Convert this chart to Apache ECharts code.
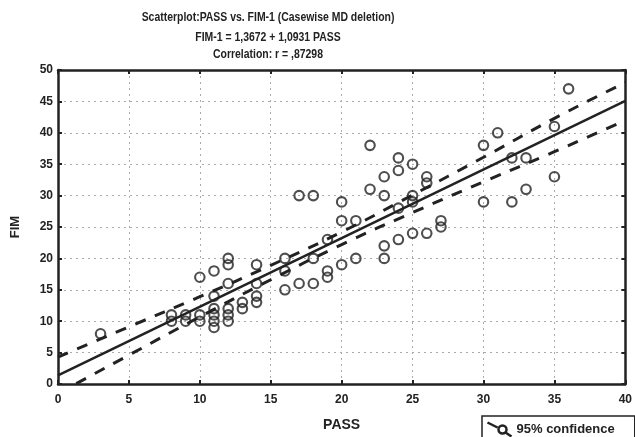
<!DOCTYPE html>
<html><head><meta charset="utf-8">
<script src="https://cdn.jsdelivr.net/npm/echarts@6.0.0/dist/echarts.min.js"></script>
<style>html,body{margin:0;padding:0;background:#fff}#c{width:635px;height:437px}</style>
</head><body><div id="c"></div>
<script>
const titleLines = [
  'Scatterplot:PASS vs. FIM-1 (Casewise MD deletion)',
  'FIM-1 = 1,3672 + 1,0931 PASS',
  'Correlation: r = ,87298'
];
const xName = 'PASS';
const yName = 'FIM';
const legendName = '95% confidence';

// scatter points
const pass = [3, 8, 8, 9, 9, 10, 10, 10, 11, 11, 11, 11, 11, 11,
  12, 12, 12, 12, 12, 12, 13, 13, 14, 14, 14, 14, 16, 16, 16,
  17, 17, 18, 18, 18, 19, 19, 19, 20, 20, 20, 21, 21, 22, 22,
  23, 23, 23, 23, 24, 24, 24, 24, 25, 25, 25, 25, 26, 26, 26,
  27, 27, 30, 30, 31, 32, 32, 33, 33, 35, 35, 36];
const fim = [8, 11, 10, 11, 10, 11, 10, 17, 12, 11, 10, 9, 14, 18,
  12, 11, 10, 16, 19, 20, 13, 12, 19, 16, 14, 13, 20, 18, 15,
  16, 30, 16, 20, 30, 23, 18, 17, 19, 26, 29, 20, 26, 31, 38,
  20, 22, 30, 33, 23, 28, 34, 36, 24, 29, 30, 35, 24, 32, 33,
  25, 26, 29, 38, 40, 29, 36, 31, 36, 33, 41, 47];

// regression line (from the title equation)
const fitIntercept = 1.3672;
const fitSlope = 1.0931;
const fitX = [0, 40];

// 95% confidence band
const bandX = [0, 5, 10, 15, 20, 25, 30, 35, 40];
const upperBand = [4.3, 9.1, 13.9, 18.9, 24.2, 30.1, 36.1, 42.3, 48.0];
const lowerBand = [-1.5, 4.6, 10.7, 16.6, 22.2, 27.3, 32.2, 37.0, 42.0];

const ink = '#222';
const chart = echarts.init(document.getElementById('c'), null, {renderer: 'canvas'});
const axisCommon = {
  type: 'value',
  axisLine: {show: true, onZero: false, lineStyle: {color: ink, width: 2.5}},
  axisTick: {show: true, inside: true, length: 4, lineStyle: {color: ink, width: 2}},
};
const labelStyle = {color: ink, fontWeight: 'bold', fontSize: 12, fontFamily: 'Liberation Sans, Arial'};
const gridLine = {show: true, lineStyle: {type: [2, 4], color: '#aaa', width: 1}};

chart.setOption({
  animation: false,
  backgroundColor: '#fff',
  grid: {left: 58, right: 5, top: 70, bottom: 50, containLabel: false},
  graphic: titleLines.map((t, i) => ({
    type: 'text', x: 268, y: [18, 38, 55][i], scaleX: 0.87,
    style: {text: t, align: 'center', verticalAlign: 'middle', textAlign: 'center', textVerticalAlign: 'middle',
      font: 'bold 12px "Liberation Sans", Arial', fill: ink}
  })),
  legend: {
    data: [legendName], left: 482, top: 416, selectedMode: false,
    padding: [4, 20, 12, 3], borderColor: ink, borderWidth: 1.5, backgroundColor: '#fff',
    itemWidth: 24, itemHeight: 14,
    icon: 'path://M0 0 L10 5 M19 7 A4 4 0 1 1 11 7 A4 4 0 1 1 19 7 M18 10 L24 14',
    itemStyle: {color: 'none', borderColor: ink, borderWidth: 2.5},
    textStyle: {color: ink, fontWeight: 'bold', fontSize: 13, fontFamily: 'Liberation Sans, Arial'}
  },
  xAxis: [
    Object.assign({}, axisCommon, {
      position: 'bottom', min: 0, max: 40, interval: 5,
      axisLabel: Object.assign({margin: 10}, labelStyle),
      splitLine: gridLine,
      name: xName, nameLocation: 'middle', nameGap: 34,
      nameTextStyle: {color: ink, fontWeight: 'bold', fontSize: 14, fontFamily: 'Liberation Sans, Arial'}
    }),
    Object.assign({}, axisCommon, {
      position: 'top', min: 0, max: 40, interval: 5,
      axisLabel: {show: false}, splitLine: {show: false}
    })
  ],
  yAxis: [
    Object.assign({}, axisCommon, {
      position: 'left', min: 0, max: 50, interval: 5,
      axisLabel: Object.assign({margin: 5}, labelStyle),
      splitLine: gridLine,
      name: yName, nameLocation: 'middle', nameGap: 36,
      nameTextStyle: {color: ink, fontWeight: 'bold', fontSize: 13, fontFamily: 'Liberation Sans, Arial'}
    }),
    Object.assign({}, axisCommon, {
      position: 'right', min: 0, max: 50, interval: 5,
      axisLabel: {show: false}, splitLine: {show: false}
    })
  ],
  series: [
    {
      type: 'line', name: 'fit', xAxisIndex: 0, yAxisIndex: 0,
      data: fitX.map(x => [x, fitIntercept + fitSlope * x]),
      symbol: 'none', lineStyle: {color: ink, width: 2.5}, z: 3, silent: true
    },
    {
      type: 'line', name: legendName, smooth: true,
      data: bandX.map((x, i) => [x, upperBand[i]]),
      symbol: 'none', lineStyle: {color: ink, width: 3, type: [11, 10]}, itemStyle: {color: ink}, z: 3
    },
    {
      type: 'line', name: legendName, smooth: true,
      data: bandX.map((x, i) => [x, lowerBand[i]]),
      symbol: 'none', lineStyle: {color: ink, width: 3, type: [11, 10]}, itemStyle: {color: ink}, z: 3
    },
    {
      type: 'scatter', name: 'points',
      data: pass.map((x, i) => [x, fim[i]]),
      symbol: 'circle', symbolSize: 9.5,
      itemStyle: {color: 'rgba(0,0,0,0)', borderColor: ink, borderWidth: 2.1}, z: 4
    }
  ]
});
</script></body></html>
